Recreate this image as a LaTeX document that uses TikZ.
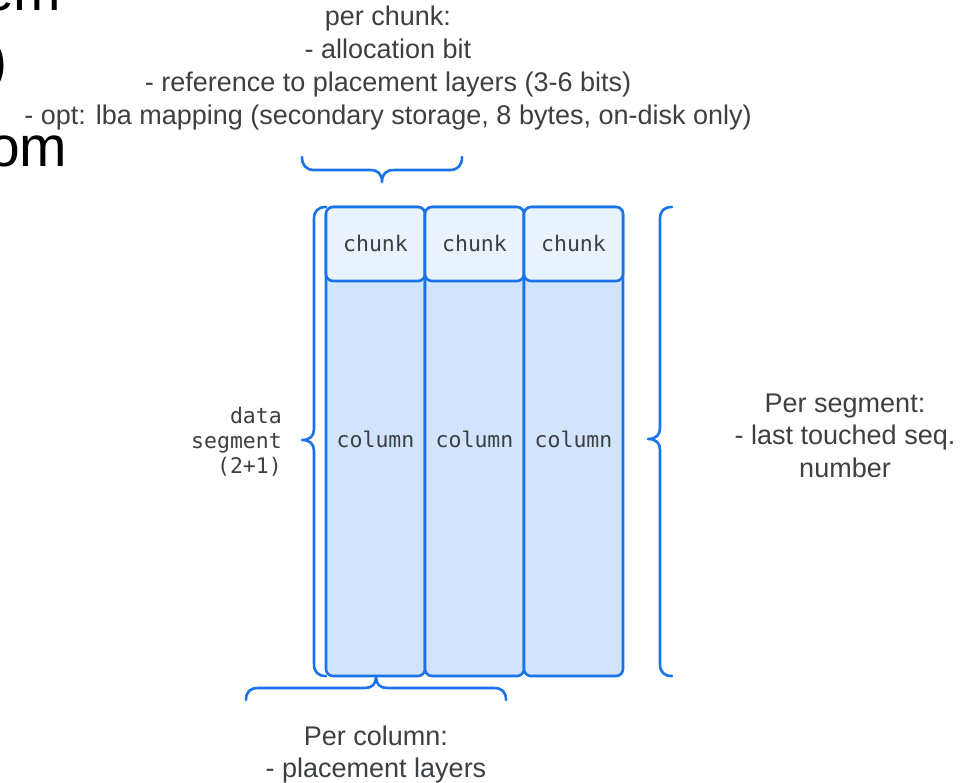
\documentclass[tikz,border=0pt]{standalone}
\usepackage{fontspec}
\setmainfont{Liberation Sans}
\newfontfamily\monofont{DejaVu Sans Mono}
\definecolor{accent}{HTML}{1A73E8}
\definecolor{colfill}{HTML}{D2E3FC}
\definecolor{chunkfill}{HTML}{EAF2FE}
\definecolor{ink}{HTML}{3C4043}
\begin{document}
\begin{tikzpicture}[x=1pt,y=-1pt,
  brace/.style={draw=accent, line width=2.6pt, line cap=round, line join=round},
  cellbox/.style={draw=accent, line width=2.6pt, rounded corners=7pt,
                  minimum width=99pt, inner sep=0pt},
  colbox/.style={cellbox, fill=colfill, minimum height=469pt},
  chunkbox/.style={cellbox, fill=chunkfill, minimum height=74pt},
  note/.style={text=ink, font=\fontsize{27}{33}\selectfont, anchor=base, inner sep=0pt},
  code/.style={text=ink, font=\monofont\fontsize{21.5}{25}\selectfont, anchor=base, inner sep=0pt},
  big/.style={text=black, font=\fontsize{57}{66}\selectfont, anchor=base east, inner sep=0pt}]
\useasboundingbox (0,0) rectangle (979,782);

% partly hidden large heading fragments at the left edge
\node[big] (frag1) at (61.5,10) {em};
\node[big, anchor=base west] (frag2) at (-12,80) {)};
\node[big] (frag3) at (67.5,166) {om};

% columns of the data segment
\foreach \i/\x in {1/375.5, 2/474.5, 3/573.5} {
  \node[colbox] (col\i) at (\x,441.5) {};
  \node[chunkbox] (chunk\i) at (\x,244) {};
  \node[code] (chunkt\i) at (\x,251) {chunk};
  \node[code] (colt\i) at (\x,447) {column};
}

% segment label on the left
\node[code, anchor=base east] (seg1) at (282,423) {data};
\node[code, anchor=base east] (seg2) at (282,448) {segment};
\node[code, anchor=base east] (seg3) at (282,473) {(2+1)};

% per chunk notes
\node[note] (pc1) at (388,25) {per chunk:};
\node[note] (pc2) at (388,58) {- allocation bit};
\node[note] (pc3) at (388,91) {- reference to placement layers (3-6 bits)};
\node[note] (pc4) at (388,124) {- opt: lba mapping (secondary storage, 8 bytes, on-disk only)};

% per segment notes
\node[note] (ps1) at (845,412) {Per segment:};
\node[note] (ps2) at (845,444.5) {- last touched seq.};
\node[note] (ps3) at (845,477) {number};

% per column notes
\node[note] (pcol1) at (376,745) {Per column:};
\node[note] (pcol2) at (376,777) {- placement layers};

% top brace over the first chunk
\draw[brace] (302,157) .. controls (302,165) and (306,170) .. (314,170) -- (370,170)
  .. controls (378,170) and (382,174) .. (382,182)
  .. controls (382,174) and (386,170) .. (394,170) -- (450,170)
  .. controls (458,170) and (462,165) .. (462,157);

% bottom brace under the first column
\draw[brace] (246,700) .. controls (246,692) and (250,688) .. (258,688) -- (365,688)
  .. controls (372,688) and (376,684) .. (376,677)
  .. controls (376,684) and (380,688) .. (387,688) -- (494,688)
  .. controls (502,688) and (506,692) .. (506,700);

% left brace along the segment
\draw[brace] (326,207) .. controls (318,207) and (314,211) .. (314,219) -- (314,429)
  .. controls (314,436) and (310,440) .. (302,440)
  .. controls (310,440) and (314,444) .. (314,451) -- (314,664)
  .. controls (314,672) and (318,676) .. (326,676);

% right brace along the segment
\draw[brace] (672,207) .. controls (664,207) and (660,211) .. (660,219) -- (660,428)
  .. controls (660,435) and (656,439) .. (648,439)
  .. controls (656,439) and (660,443) .. (660,450) -- (660,664)
  .. controls (660,672) and (664,676) .. (672,676);
\end{tikzpicture}
\end{document}
